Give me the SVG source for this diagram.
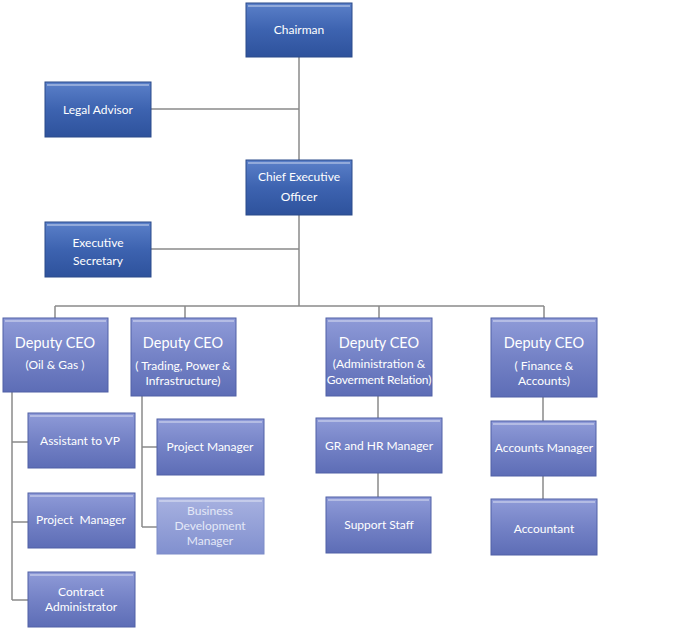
<svg xmlns="http://www.w3.org/2000/svg" width="686" height="629" viewBox="0 0 686 629">
<defs>
<linearGradient id="gDark" x1="0" y1="0" x2="0" y2="1">
<stop offset="0" stop-color="#5b80c9"/>
<stop offset="0.5" stop-color="#3d63b0"/>
<stop offset="1" stop-color="#2e529c"/>
</linearGradient>
<linearGradient id="gMid" x1="0" y1="0" x2="0" y2="1">
<stop offset="0" stop-color="#8f9bd8"/>
<stop offset="0.5" stop-color="#7482c6"/>
<stop offset="1" stop-color="#5d6db6"/>
</linearGradient>
<linearGradient id="gPale" x1="0" y1="0" x2="0" y2="1">
<stop offset="0" stop-color="#a7b1e0"/>
<stop offset="1" stop-color="#8190cf"/>
</linearGradient>
</defs>
<style>
.bd{fill:url(#gDark);stroke:#2b4a8a;stroke-width:1}
.bm{fill:url(#gMid);stroke:#5061a6;stroke-width:1}
.bp{fill:url(#gPale);stroke:#7d8cc8;stroke-width:1}
.hl{fill:none;stroke:#ffffff;stroke-opacity:0.35;stroke-width:2}
.t{font-family:Lato,"Open Sans","Liberation Sans",sans-serif;fill:#ffffff;text-anchor:middle;font-size:12px;white-space:pre}
.tl{font-size:14.5px}
.tp{fill:#e4e8f7}
.c{stroke:#8a8a8a;stroke-width:1.5;fill:none}
</style>
<g id="connectors">
<path class="c" d="M299 57V306M151 109H299M151 249H299"/>
<path class="c" d="M55 306H544M55 306V318M185 306V318M379 306V318M544 306V318"/>
<path class="c" d="M12 392V600M12 442H28M12 522H28M12 600H28"/>
<path class="c" d="M142 396V527M142 447H157M142 527H157"/>
<path class="c" d="M378 396V418M378 473V497M543 397V421M543 476V499"/>
</g>
<g id="chairman"><rect class="bd" x="246" y="3" width="106" height="54"/><path class="hl" d="M248 6H350"/><text class="t" x="299" y="34" font-size="13.5">Chairman</text></g>
<g id="legal"><rect class="bd" x="45" y="82" width="106" height="55"/><path class="hl" d="M47 85H149"/><text class="t" x="98" y="114" font-size="12.5">Legal Advisor</text></g>
<g id="ceo"><rect class="bd" x="246" y="160" width="106" height="55"/><path class="hl" d="M248 163H350"/><text class="t" x="299" y="181" font-size="12.5">Chief Executive</text><text class="t" x="299" y="201" font-size="12.5">Officer</text></g>
<g id="secretary"><rect class="bd" x="45" y="222" width="106" height="55"/><path class="hl" d="M47 225H149"/><text class="t" x="98" y="247" font-size="13">Executive</text><text class="t" x="98" y="265" font-size="13">Secretary</text></g>
<g id="dep1"><rect class="bm" x="3" y="318" width="105" height="74"/><path class="hl" d="M5 321H106"/><text class="t tl" x="55" y="348">Deputy CEO</text><text class="t" x="55" y="369">(Oil &amp; Gas )</text></g>
<g id="dep2"><rect class="bm" x="131" y="318" width="105" height="78"/><path class="hl" d="M133 321H234"/><text class="t tl" x="183" y="348">Deputy CEO</text><text class="t" x="183" y="370">( Trading, Power &amp;</text><text class="t" x="183" y="385">Infrastructure)</text></g>
<g id="dep3"><rect class="bm" x="326" y="318" width="106" height="78"/><path class="hl" d="M328 321H430"/><text class="t tl" x="379" y="348">Deputy CEO</text><text class="t" x="379" y="368" font-size="11.5">(Administration &amp;</text><text class="t" x="379" y="384" font-size="11" letter-spacing="-0.2">Goverment Relation)</text></g>
<g id="dep4"><rect class="bm" x="491" y="318" width="106" height="79"/><path class="hl" d="M493 321H595"/><text class="t tl" x="544" y="348">Deputy CEO</text><text class="t" x="544" y="370">( Finance &amp;</text><text class="t" x="544" y="385">Accounts)</text></g>
<g id="assistant"><rect class="bm" x="28" y="413" width="107" height="55"/><path class="hl" d="M30 416H133"/><text class="t" x="80" y="445">Assistant to VP</text></g>
<g id="pm1"><rect class="bm" x="28" y="493" width="107" height="55"/><path class="hl" d="M30 496H133"/><text class="t" x="81" y="524">Project  Manager</text></g>
<g id="contract"><rect class="bm" x="28" y="572" width="107" height="55"/><path class="hl" d="M30 575H133"/><text class="t" x="81" y="596">Contract</text><text class="t" x="81" y="611">Administrator</text></g>
<g id="pm2"><rect class="bm" x="157" y="419" width="107" height="56"/><path class="hl" d="M159 422H262"/><text class="t" x="210" y="451">Project Manager</text></g>
<g id="bdm"><rect class="bp" x="157" y="498" width="107" height="56"/><path class="hl" d="M159 501H262"/><text class="t tp" x="210" y="515">Business</text><text class="t tp" x="210" y="530">Development</text><text class="t tp" x="210" y="545">Manager</text></g>
<g id="grhr"><rect class="bm" x="316" y="418" width="126" height="55"/><path class="hl" d="M318 421H440"/><text class="t" x="379" y="450">GR and HR Manager</text></g>
<g id="support"><rect class="bm" x="326" y="497" width="105" height="56"/><path class="hl" d="M328 500H429"/><text class="t" x="379" y="529">Support Staff</text></g>
<g id="accmgr"><rect class="bm" x="491" y="421" width="105" height="55"/><path class="hl" d="M493 424H594"/><text class="t" x="544" y="452">Accounts Manager</text></g>
<g id="accountant"><rect class="bm" x="491" y="499" width="106" height="56"/><path class="hl" d="M493 502H595"/><text class="t" x="544" y="533">Accountant</text></g>
</svg>
